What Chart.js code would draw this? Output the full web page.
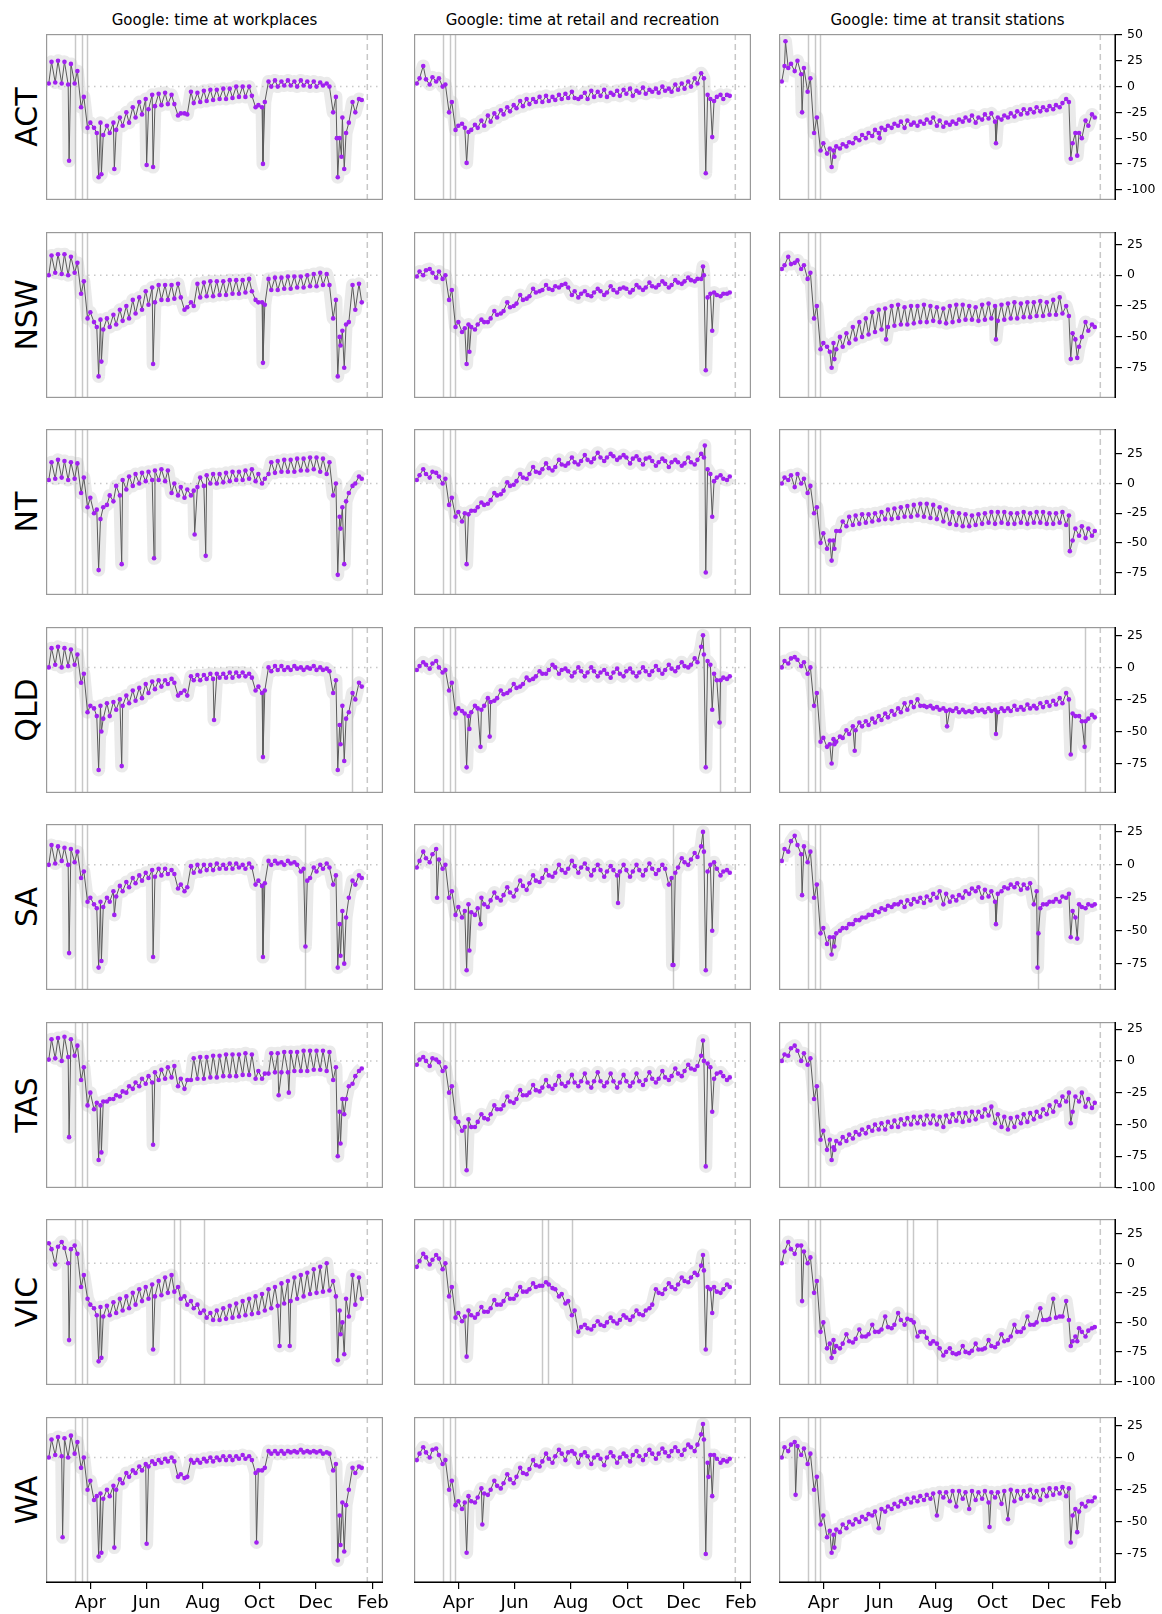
<!DOCTYPE html>
<html>
<head>
<meta charset="utf-8">
<title>Google mobility by state</title>
<script src="https://cdn.jsdelivr.net/npm/chart.js"></script>
<style>
  body { margin: 0; background: #fff; width: 1162px; height: 1614px; position: relative; overflow: hidden; font-family: "DejaVu Sans", sans-serif; }
  canvas { position: absolute; }
  .title { position: absolute; top: 11px; width: 337px; text-align: center; font-size: 15px; line-height: 18px; color: #000; }
  .state { position: absolute; width: 166px; height: 40px; line-height: 40px; text-align: center; font-size: 30px; color: #000; transform: rotate(-90deg); }
</style>
</head>
<body>
<script>
// days are counted from 1 Jan 2020; each week has a Sunday sample (we) and a Wednesday sample (wk)
const states = ['ACT', 'NSW', 'NT', 'QLD', 'SA', 'TAS', 'VIC', 'WA'];
const titles = ['Google: time at workplaces', 'Google: time at retail and recreation', 'Google: time at transit stations'];
const monthTicks = [91, 152, 213, 274, 335, 397];
const monthLabels = ['Apr', 'Jun', 'Aug', 'Oct', 'Dec', 'Feb'];
const yTickValues = [50, 25, 0, -25, -50, -75, -100];
const rowRanges = [[-110, 51], [-99.5, 35], [-94, 46], [-98, 31.5], [-95, 31], [-100, 30.6], [-103, 37.5], [-97.5, 31.5]];
const eventDays = [[74, 82, 87], [74, 82, 87], [74, 82, 87], [74, 82, 87, 374], [74, 82, 87, 323], [74, 82, 87], [74, 82, 87, 182, 188, 214], [74, 82, 87]];
const dashedDay = 391;
const sundays = [];
for (let k = 0; k < 49; k++) sundays.push(46 + 7 * k);

// ACT
const actWorkWk = [24,25,24,22,15,-10,-35,-45,-47,-45,-42,-38,-35,-30,-27,-22,-19,-18,-17,-17,-26,-27,-16,-15,-14,-13,-12,-12,-11,-10,-10,-9,-18,-15,0,0,1,1,0,1,0,0,1,0,-10,-30,-35,-25,-13];
const actWorkWe = [3,4,3,2,3,-20,-40,-40,-35,-38,-35,-30,-25,-20,-15,-12,-8,-7,-6,-8,-28,-26,-5,-6,-4,-3,-3,-2,-2,0,0,0,-20,-20,5,6,5,6,5,6,5,5,4,3,-25,-50,-45,-15,-12];
const actWorkHol = [[68,-72],[100,-88],[103,-85],[117,-80],[152,-76],[159,-78],[278,-75],[358,-50],[359,-88],[363,-68],[366,-80]];
const actRetWk = [8,7,9,8,2,-15,-38,-40,-42,-40,-38,-34,-30,-27,-24,-21,-19,-17,-15,-15,-14,-13,-12,-11,-11,-10,-12,-10,-9,-10,-8,-9,-7,-9,-6,-7,-5,-6,-4,-5,-3,-2,0,3,8,-12,-10,-12,-9];
const actRetWe = [3,20,2,5,0,-25,-42,-36,-44,-37,-33,-28,-26,-23,-20,-18,-14,-12,-12,-10,-9,-10,-8,-7,-5,-12,-6,-4,-5,-3,-6,-4,-3,-2,-4,-1,-3,-2,0,-2,2,3,5,8,13,-8,-14,-8,-8];
const actRetHol = [[100,-74],[359,-84],[366,-49]];
const actTrWk = [20,22,25,18,8,-30,-55,-60,-58,-56,-54,-50,-47,-45,-42,-40,-38,-36,-34,-33,-35,-34,-32,-30,-33,-35,-34,-32,-30,-28,-30,-27,-26,-30,-28,-26,-24,-22,-22,-20,-20,-19,-18,-16,-15,-45,-50,-38,-30];
const actTrWe = [5,18,15,12,-5,-45,-62,-65,-62,-60,-58,-55,-52,-50,-48,-45,-42,-40,-38,-40,-37,-38,-36,-35,-38,-39,-37,-36,-34,-33,-35,-32,-31,-34,-32,-30,-29,-27,-26,-25,-24,-23,-22,-20,-12,-55,-45,-33,-27];
const actTrHol = [[50,44],[68,-25],[100,-78],[103,-68],[152,-50],[278,-55],[359,-70],[366,-67]];

// NSW
const nswWorkWk = [16,17,17,15,10,-5,-30,-42,-44,-42,-40,-37,-35,-31,-28,-24,-22,-20,-20,-19,-18,-26,-25,-18,-17,-17,-16,-16,-15,-15,-14,-13,-22,-24,-12,-12,-11,-11,-10,-10,-9,-9,-8,-8,-20,-45,-38,-28,-22];
const nswWorkWe = [0,2,1,0,2,-15,-35,-38,-36,-35,-32,-28,-25,-20,-18,-13,-10,-8,-8,-8,-7,-28,-22,-7,-6,-5,-5,-5,-4,-4,-4,-3,-20,-22,-3,-2,-2,-1,-1,-1,0,1,2,1,-35,-50,-40,-8,-7];
const nswWorkHol = [[100,-82],[103,-70],[159,-72],[278,-71],[359,-82],[362,-57],[366,-75]];
const nswRetWk = [3,4,2,3,0,-12,-38,-43,-42,-40,-38,-35,-32,-29,-26,-23,-20,-17,-14,-12,-11,-9,-8,-10,-13,-15,-16,-14,-13,-14,-12,-11,-11,-12,-10,-10,-9,-8,-7,-8,-6,-5,-4,-3,0,-15,-16,-15,-14];
const nswRetWe = [-1,0,5,-2,-3,-20,-42,-46,-40,-44,-36,-38,-29,-31,-22,-25,-16,-19,-11,-13,-8,-12,-10,-7,-16,-18,-13,-17,-11,-16,-9,-14,-10,-14,-8,-12,-6,-10,-5,-10,-4,-7,-2,-5,-3,-18,-14,-17,-15];
const nswRetHol = [[100,-72],[103,-62],[356,7],[359,-77],[366,-45]];
const nswTrWk = [8,9,12,8,2,-25,-55,-62,-60,-58,-55,-52,-50,-48,-46,-44,-42,-41,-40,-40,-39,-38,-38,-37,-38,-39,-38,-37,-36,-36,-37,-36,-35,-37,-36,-35,-35,-34,-34,-33,-33,-32,-32,-31,-33,-52,-50,-45,-42];
const nswTrWe = [5,15,10,5,-3,-35,-60,-58,-55,-50,-47,-42,-38,-35,-30,-28,-27,-25,-24,-26,-25,-25,-24,-25,-26,-27,-25,-24,-24,-25,-26,-24,-23,-25,-24,-23,-22,-23,-22,-22,-21,-22,-20,-18,-25,-47,-58,-38,-40];
const nswTrHol = [[100,-75],[103,-68],[159,-52],[278,-52],[359,-68],[366,-67]];

// NT
const ntWorkWk = [18,20,19,18,17,5,-12,-22,-20,-10,-2,3,6,8,9,10,11,12,11,0,-3,-5,-6,5,7,8,8,9,10,10,11,12,8,4,18,19,20,20,21,21,22,22,21,18,0,-20,-8,0,4];
const ntWorkWe = [3,4,5,3,4,-8,-20,-25,-30,-18,-15,-10,-5,-2,0,2,3,3,2,-8,-10,-12,-10,-3,-2,0,0,1,2,3,3,4,2,0,8,9,10,10,10,11,11,12,10,8,-10,-28,-15,-2,6];
const ntWorkHol = [[100,-73],[125,-68],[160,-63],[204,-43],[216,-61],[359,-77],[362,-38],[366,-68]];
const ntRetWk = [7,8,10,6,4,-12,-24,-25,-23,-20,-18,-14,-10,-6,-2,2,5,8,10,12,13,14,16,17,18,19,20,21,22,22,23,22,22,21,20,21,19,18,19,18,18,17,18,20,22,8,5,4,6];
const ntRetWe = [3,12,5,9,0,-18,-28,-32,-26,-23,-16,-17,-8,-9,1,-1,8,4,14,9,17,11,20,15,22,16,24,18,26,19,25,20,24,17,23,16,22,15,21,14,20,15,22,16,25,12,2,7,3];
const ntRetHol = [[100,-68],[358,32],[359,-75],[366,-28]];
const ntTrWk = [5,7,8,4,-2,-20,-42,-48,-40,-32,-28,-27,-26,-26,-25,-24,-22,-21,-20,-19,-18,-17,-17,-18,-20,-22,-24,-25,-26,-27,-26,-25,-24,-24,-24,-25,-25,-24,-25,-24,-24,-25,-25,-24,-27,-38,-36,-38,-40];
const ntTrWe = [0,3,-3,0,-8,-25,-50,-55,-48,-40,-36,-35,-34,-33,-32,-31,-30,-30,-29,-28,-28,-27,-28,-29,-30,-32,-34,-35,-36,-36,-35,-34,-33,-34,-33,-34,-34,-33,-34,-33,-33,-34,-34,-33,-35,-48,-44,-46,-44];
const ntTrHol = [[100,-65],[103,-55],[358,-57]];

// QLD
const qldWorkWk = [15,16,15,14,10,-5,-30,-38,-40,-38,-33,-30,-28,-26,-24,-20,-17,-15,-13,-12,-20,-22,-10,-10,-9,-9,-8,-8,-8,-7,-7,-8,-15,-18,-3,-2,-2,-2,-1,-2,-1,-2,-2,-3,-10,-30,-35,-25,-15];
const qldWorkWe = [0,2,0,1,2,-12,-35,-32,-30,-28,-27,-25,-22,-18,-16,-13,-11,-10,-10,-9,-22,-18,-7,-6,-6,-5,-5,-5,-4,-4,-4,-5,-18,-20,0,1,1,0,1,0,0,1,0,-1,-20,-45,-40,-20,-12];
const qldWorkHol = [[100,-80],[103,-50],[125,-77],[225,-41],[278,-70],[359,-80],[362,-60],[366,-73]];
const qldRetWk = [1,2,3,0,-2,-12,-32,-36,-35,-32,-30,-27,-24,-21,-18,-16,-13,-10,-7,-5,-2,0,-2,-3,-4,-3,-4,-3,-4,-5,-4,-5,-3,-4,-4,-3,-3,-2,-2,-1,0,1,2,4,10,2,-10,-8,-7];
const qldRetWe = [-2,4,-1,5,-4,-18,-36,-34,-38,-30,-33,-24,-26,-18,-20,-13,-15,-8,-9,-3,-5,2,-5,-1,-7,0,-7,0,-7,-2,-8,-1,-7,-1,-7,0,-6,1,-5,2,-3,4,0,7,16,5,-5,-10,-9];
const qldRetHol = [[100,-78],[103,-48],[115,-62],[125,-54],[356,25],[359,-78],[366,-33],[374,-43]];
const qldTrWk = [5,7,6,4,0,-20,-55,-60,-58,-55,-52,-49,-46,-45,-43,-41,-39,-37,-35,-33,-31,-30,-31,-32,-33,-34,-34,-35,-35,-35,-34,-35,-34,-35,-34,-34,-33,-33,-32,-32,-31,-30,-29,-28,-25,-38,-42,-40,-39];
const qldTrWe = [0,3,8,1,-5,-30,-58,-62,-56,-54,-49,-46,-43,-42,-40,-38,-36,-34,-32,-28,-27,-25,-30,-30,-31,-32,-33,-32,-33,-34,-32,-33,-32,-33,-32,-32,-30,-31,-29,-30,-28,-27,-26,-24,-20,-36,-38,-42,-37];
const qldTrHol = [[100,-75],[103,-60],[125,-65],[225,-46],[278,-52],[359,-68],[374,-62]];

// SA
const saWorkWk = [15,14,13,12,10,-5,-25,-33,-32,-28,-24,-20,-17,-14,-12,-10,-9,-8,-7,-7,-15,-17,-6,-5,-4,-4,-3,-3,-3,-2,-3,-2,-12,-14,0,1,0,1,0,-3,-10,-5,-3,-2,-8,-35,-25,-15,-10];
const saWorkWe = [0,1,3,0,2,-10,-28,-30,-28,-25,-20,-16,-13,-10,-8,-6,-4,-3,-3,-4,-18,-20,-1,0,0,0,1,0,1,1,0,1,-15,-16,3,3,2,3,2,-5,-12,-2,0,1,-15,-45,-40,-12,-8];
const saWorkHol = [[68,-67],[100,-78],[103,-73],[117,-38],[159,-70],[278,-70],[324,-62],[359,-78],[362,-69],[366,-75]];
const saRetWk = [3,5,8,4,0,-20,-32,-35,-36,-33,-30,-27,-25,-23,-21,-19,-16,-14,-12,-10,-8,-6,-4,-3,-1,-2,-3,-4,-4,-5,-4,-5,-4,-5,-4,-4,-3,-4,-3,-10,-2,2,4,6,10,0,-3,-5,-6];
const saRetWe = [-2,10,2,12,-3,-25,-38,-40,-30,-38,-25,-32,-21,-27,-17,-24,-12,-19,-8,-13,-4,-9,0,-6,3,-6,1,-8,0,-9,-1,-8,0,-9,0,-8,1,-7,0,-15,-6,5,0,9,14,-5,2,-8,-4];
const saRetHol = [[68,-25],[100,-80],[103,-65],[115,-45],[264,-29],[323,-76],[324,-76],[356,25],[359,-80],[366,-50]];
const saTrWk = [12,18,15,14,10,-15,-48,-55,-52,-48,-45,-42,-40,-38,-35,-33,-31,-30,-28,-27,-26,-25,-24,-22,-20,-22,-24,-23,-20,-18,-17,-19,-20,-22,-17,-15,-14,-15,-14,-20,-30,-28,-26,-24,-22,-40,-32,-30,-30];
const saTrWe = [3,10,22,8,2,-25,-52,-60,-55,-50,-48,-45,-42,-40,-38,-36,-34,-32,-30,-32,-30,-28,-29,-27,-25,-30,-28,-27,-25,-22,-20,-25,-24,-28,-20,-18,-17,-19,-18,-30,-33,-30,-28,-28,-25,-35,-30,-33,-31];
const saTrHol = [[68,-23],[100,-68],[103,-62],[278,-45],[323,-78],[324,-52],[359,-55],[366,-56]];

// TAS
const tasWorkWk = [17,18,19,17,12,-5,-25,-33,-32,-30,-27,-24,-20,-17,-14,-12,-9,-7,-5,-4,-14,-15,2,3,3,4,4,5,5,5,6,5,-8,-10,6,6,7,7,7,8,8,8,8,7,-5,-30,-20,-12,-6];
const tasWorkWe = [1,2,0,3,4,-15,-35,-38,-35,-32,-30,-28,-25,-22,-20,-18,-17,-15,-14,-13,-20,-22,-15,-14,-14,-13,-13,-12,-12,-12,-11,-11,-14,-14,-10,-9,-9,-9,-8,-8,-8,-7,-7,-8,-15,-40,-30,-18,-8];
const tasWorkHol = [[68,-60],[100,-78],[103,-72],[159,-66],[295,-27],[306,-25],[359,-75],[362,-65],[366,-42]];
const tasRetWk = [1,0,2,-1,-5,-20,-48,-52,-52,-48,-45,-42,-38,-35,-32,-30,-27,-25,-23,-21,-20,-19,-18,-17,-17,-16,-17,-16,-16,-17,-16,-17,-16,-17,-16,-15,-14,-14,-13,-12,-10,-8,-6,-4,0,-5,-10,-12,-13];
const tasRetWe = [-3,3,-4,1,-8,-25,-45,-55,-46,-52,-42,-46,-35,-38,-28,-33,-23,-27,-19,-24,-15,-22,-12,-20,-11,-20,-10,-21,-9,-20,-10,-21,-11,-20,-10,-19,-9,-17,-8,-15,-6,-12,-3,-7,4,-2,-14,-9,-15];
const tasRetHol = [[100,-86],[356,16],[359,-83],[366,-40]];
const tasTrWk = [5,10,8,6,2,-20,-55,-62,-63,-60,-58,-56,-54,-52,-50,-49,-48,-47,-46,-45,-44,-44,-43,-43,-44,-43,-42,-41,-41,-40,-40,-38,-36,-42,-44,-45,-44,-42,-41,-40,-38,-35,-32,-28,-25,-28,-25,-30,-33];
const tasTrWe = [0,4,12,0,-3,-30,-62,-70,-68,-65,-63,-61,-58,-57,-55,-54,-54,-52,-52,-50,-50,-49,-50,-49,-50,-52,-48,-47,-48,-47,-46,-44,-43,-49,-52,-54,-52,-49,-48,-46,-44,-42,-40,-35,-32,-40,-32,-36,-37];
const tasTrHol = [[100,-78],[103,-70],[359,-49]];

// VIC
const vicWorkWk = [12,14,13,12,8,-10,-35,-44,-45,-44,-42,-40,-38,-35,-32,-30,-28,-27,-25,-24,-30,-35,-38,-42,-46,-48,-48,-47,-46,-45,-44,-43,-42,-40,-38,-36,-34,-32,-30,-28,-26,-25,-24,-23,-28,-50,-45,-35,-30];
const vicWorkWe = [17,-1,18,0,15,-20,-30,-38,-37,-36,-33,-30,-28,-25,-22,-20,-18,-15,-12,-10,-20,-28,-32,-35,-40,-42,-40,-38,-36,-34,-32,-30,-28,-26,-22,-20,-17,-15,-12,-10,-8,-5,-3,0,-15,-40,-30,-10,-12];
const vicWorkHol = [[68,-65],[100,-83],[103,-80],[159,-73],[296,-70],[307,-70],[359,-82],[362,-60],[366,-77]];
const vicRetWk = [2,5,3,4,0,-20,-42,-45,-44,-43,-41,-38,-35,-32,-30,-27,-24,-22,-20,-19,-18,-22,-26,-32,-40,-54,-55,-53,-52,-50,-49,-48,-46,-45,-43,-40,-35,-25,-22,-20,-18,-15,-12,-10,-6,-22,-24,-22,-20];
const vicRetWe = [-3,8,-1,7,-5,-28,-46,-49,-40,-46,-37,-41,-31,-35,-26,-30,-20,-24,-17,-19,-16,-21,-28,-34,-44,-58,-52,-56,-49,-53,-46,-51,-44,-48,-40,-44,-38,-22,-26,-17,-22,-12,-16,-8,-2,-20,-20,-25,-18];
const vicRetHol = [[100,-79],[356,7],[359,-73],[366,-42]];
const vicTrWk = [10,12,15,10,5,-15,-50,-68,-70,-68,-66,-64,-62,-60,-58,-56,-54,-52,-48,-47,-50,-58,-63,-66,-72,-75,-76,-76,-75,-74,-73,-72,-70,-68,-66,-62,-58,-55,-52,-50,-48,-47,-46,-45,-48,-62,-58,-57,-54];
const vicTrWe = [0,18,8,15,0,-25,-58,-72,-65,-72,-60,-67,-56,-62,-52,-58,-45,-55,-42,-52,-48,-62,-58,-68,-68,-78,-72,-77,-70,-76,-68,-73,-65,-71,-60,-65,-52,-58,-45,-52,-38,-48,-30,-45,-32,-66,-55,-62,-55];
const vicTrHol = [[68,-32],[100,-80],[103,-75],[359,-70],[366,-66]];

// WA
const waWorkWk = [14,16,15,17,12,0,-18,-30,-32,-30,-25,-20,-15,-12,-10,-7,-5,-4,-3,-3,-13,-15,-4,-4,-3,-3,-2,-2,-2,-1,-1,-2,-10,-8,3,3,3,4,4,4,4,4,3,3,-5,-35,-25,-12,-8];
const waWorkWe = [0,2,1,0,3,-8,-25,-33,-28,-25,-22,-17,-12,-10,-7,-5,-3,-2,-1,0,-15,-16,-2,-2,-1,0,0,1,1,1,2,1,-12,-10,5,5,5,5,5,6,5,5,5,4,-10,-45,-37,-8,-7];
const waWorkHol = [[61,-62],[100,-77],[103,-74],[117,-70],[152,-67],[271,-66],[359,-80],[362,-68],[366,-73]];
const waRetWk = [3,4,6,2,-2,-18,-34,-35,-34,-31,-28,-25,-22,-20,-17,-15,-12,-9,-6,-3,-1,1,3,4,3,2,1,0,-1,0,1,0,1,2,1,2,3,3,4,5,5,6,8,10,14,2,-1,-2,-1];
const waRetWe = [-2,8,0,7,-5,-25,-37,-40,-30,-35,-24,-29,-18,-24,-13,-20,-8,-13,-2,-7,3,-4,6,-2,5,-4,4,-5,2,-6,4,-4,3,-3,5,-2,6,-1,7,1,8,2,10,5,18,-4,2,-4,-3];
const waRetHol = [[100,-74],[117,-52],[356,26],[359,-75],[362,-15],[366,-30]];
const waTrWk = [8,10,9,7,3,-15,-45,-57,-56,-52,-50,-48,-46,-44,-42,-40,-38,-36,-34,-32,-31,-30,-29,-28,-27,-27,-26,-26,-27,-26,-27,-26,-27,-27,-26,-25,-26,-26,-25,-26,-25,-24,-24,-23,-24,-40,-36,-34,-31];
const waTrWe = [0,5,12,2,-5,-25,-52,-62,-60,-58,-55,-52,-50,-48,-45,-55,-42,-40,-38,-36,-35,-34,-33,-32,-45,-31,-34,-38,-32,-40,-33,-32,-35,-31,-36,-48,-34,-32,-30,-31,-33,-30,-29,-28,-30,-45,-42,-38,-34];
const waTrHol = [[61,-29],[100,-74],[103,-70],[271,-54],[359,-66],[366,-58]];

const panelData = [
  [[actWorkWk, actWorkWe, actWorkHol], [actRetWk, actRetWe, actRetHol], [actTrWk, actTrWe, actTrHol]],
  [[nswWorkWk, nswWorkWe, nswWorkHol], [nswRetWk, nswRetWe, nswRetHol], [nswTrWk, nswTrWe, nswTrHol]],
  [[ntWorkWk, ntWorkWe, ntWorkHol], [ntRetWk, ntRetWe, ntRetHol], [ntTrWk, ntTrWe, ntTrHol]],
  [[qldWorkWk, qldWorkWe, qldWorkHol], [qldRetWk, qldRetWe, qldRetHol], [qldTrWk, qldTrWe, qldTrHol]],
  [[saWorkWk, saWorkWe, saWorkHol], [saRetWk, saRetWe, saRetHol], [saTrWk, saTrWe, saTrHol]],
  [[tasWorkWk, tasWorkWe, tasWorkHol], [tasRetWk, tasRetWe, tasRetHol], [tasTrWk, tasTrWe, tasTrHol]],
  [[vicWorkWk, vicWorkWe, vicWorkHol], [vicRetWk, vicRetWe, vicRetHol], [vicTrWk, vicTrWe, vicTrHol]],
  [[waWorkWk, waWorkWe, waWorkHol], [waRetWk, waRetWe, waRetHol], [waTrWk, waTrWe, waTrHol]]
];

// layout
const colLeft = [46, 414, 779];
const panelW = 337, panelH = 166, yAxisW = 46, xAxisH = 34;
const rowTop = r => 34 + Math.round(197.5 * r);

function panelPoints(wk, we, hol) {
  let pts = [];
  wk.forEach((v, k) => pts.push({ x: sundays[k] + 3, y: v }));
  we.forEach((v, k) => pts.push({ x: sundays[k], y: v }));
  hol.forEach(h => pts.push({ x: h[0], y: h[1] }));
  return pts.sort((a, b) => a.x - b.x);
}

const deco = {
  id: 'deco',
  beforeDatasetsDraw(chart, args, opts) {
    const { ctx, chartArea: a, scales: { x, y } } = chart;
    ctx.save();
    ctx.beginPath(); ctx.rect(a.left, a.top, a.width, a.height); ctx.clip();
    ctx.strokeStyle = '#c8c8c8'; ctx.lineWidth = 1.5;
    for (let d of opts.vlines) {
      let px = Math.round(x.getPixelForValue(d)) + 0.5;
      ctx.beginPath(); ctx.moveTo(px, a.top); ctx.lineTo(px, a.bottom); ctx.stroke();
    }
    ctx.setLineDash([6, 4]);
    let dx = x.getPixelForValue(dashedDay);
    ctx.beginPath(); ctx.moveTo(dx, a.top); ctx.lineTo(dx, a.bottom); ctx.stroke();
    ctx.setLineDash([1.5, 4.5]);
    let zy = y.getPixelForValue(0);
    ctx.beginPath(); ctx.moveTo(a.left, zy); ctx.lineTo(a.right, zy); ctx.stroke();
    ctx.restore();
  },
  afterDraw(chart, args, opts) {
    const { ctx, chartArea: a } = chart;
    ctx.save();
    ctx.strokeStyle = '#999'; ctx.lineWidth = 1.2;
    ctx.strokeRect(a.left + 0.6, a.top + 0.6, a.width - 1.2, a.height - 1.2);
    ctx.strokeStyle = '#000'; ctx.lineWidth = 1.5;
    if (opts.col == 2) { ctx.beginPath(); ctx.moveTo(a.right - 0.75, a.top); ctx.lineTo(a.right - 0.75, a.bottom); ctx.stroke(); }
    if (opts.row == 7) { ctx.beginPath(); ctx.moveTo(a.left, a.bottom - 0.75); ctx.lineTo(a.right, a.bottom - 0.75); ctx.stroke(); }
    ctx.restore();
  }
};

titles.forEach((t, c) => {
  let d = document.createElement('div');
  d.className = 'title'; d.textContent = t;
  d.style.left = colLeft[c] + 'px';
  document.body.appendChild(d);
});

states.forEach((st, r) => {
  let lab = document.createElement('div');
  lab.className = 'state'; lab.textContent = st;
  lab.style.left = (27 - 83) + 'px';
  lab.style.top = (rowTop(r) + panelH / 2 - 20) + 'px';
  document.body.appendChild(lab);

  for (let c = 0; c < 3; c++) {
    const [wk, we, hol] = panelData[r][c];
    const pts = panelPoints(wk, we, hol);
    const showX = r == 7, showY = c == 2;
    // extra room so edge tick labels are not cut off
    const padTop = showY ? 9 : 0, padBottom = (showY && !showX) ? 9 : 0, padRight = (showX && !showY) ? 18 : 0;
    const w = panelW + (showY ? yAxisW : 0) + padRight;
    const h = panelH + (showX ? xAxisH : 0) + padTop + padBottom;
    const canvas = document.createElement('canvas');
    canvas.width = w; canvas.height = h;
    canvas.style.width = w + 'px'; canvas.style.height = h + 'px';
    canvas.style.left = colLeft[c] + 'px'; canvas.style.top = (rowTop(r) - padTop) + 'px';
    document.body.appendChild(canvas);

    new Chart(canvas, {
      type: 'scatter',
      data: {
        datasets: [
          { data: pts, showLine: false, pointRadius: 2.3, pointBorderWidth: 0, backgroundColor: '#a020f0', borderColor: '#a020f0', order: 0 },
          { data: pts, showLine: true, pointRadius: 0, borderColor: '#5a5a5a', borderWidth: 1, order: 1 },
          { data: pts, showLine: true, pointRadius: 0, borderColor: 'rgba(185,185,185,0.3)', borderWidth: 13, borderJoinStyle: 'round', order: 2 }
        ]
      },
      options: {
        responsive: false, animation: false, events: [], devicePixelRatio: 1,
        layout: { padding: { top: padTop, bottom: padBottom, left: 0, right: padRight }, autoPadding: false },
        plugins: { legend: { display: false }, tooltip: { enabled: false }, deco: { vlines: eventDays[r], row: r, col: c } },
        scales: {
          x: {
            type: 'linear', min: 43, max: 408, display: showX, position: 'bottom',
            afterBuildTicks: s => { s.ticks = monthTicks.map(v => ({ value: v })) },
            afterFit: s => { s.height = showX ? xAxisH : 0; s.paddingLeft = 0; s.paddingRight = 0; },
            ticks: { callback: v => monthLabels[monthTicks.indexOf(v)], font: { family: 'DejaVu Sans', size: 18 }, color: '#000', padding: 4, maxRotation: 0, autoSkip: false },
            grid: { drawOnChartArea: false, drawTicks: true, tickLength: 6, color: '#000', lineWidth: 1.2 },
            border: { display: false }
          },
          y: {
            type: 'linear', min: rowRanges[r][0], max: rowRanges[r][1], display: showY, position: 'right',
            afterBuildTicks: s => { s.ticks = yTickValues.filter(v => v >= s.min && v <= s.max).map(v => ({ value: v })) },
            afterFit: s => { s.width = showY ? yAxisW : 0; s.paddingTop = 0; s.paddingBottom = 0; },
            ticks: { font: { family: 'DejaVu Sans', size: 12.5 }, color: '#000', padding: 5, autoSkip: false },
            grid: { drawOnChartArea: false, drawTicks: true, tickLength: 6, color: '#000', lineWidth: 1.2 },
            border: { display: false }
          }
        }
      },
      plugins: [deco]
    });
  }
});
</script>
</body>
</html>
